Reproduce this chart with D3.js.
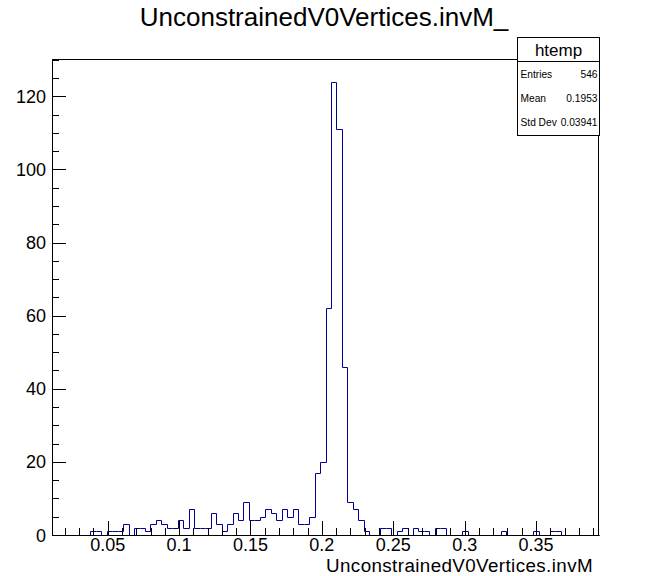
<!DOCTYPE html>
<html>
<head>
<meta charset="utf-8">
<script src="https://cdn.jsdelivr.net/npm/d3@7"></script>
<style>
  html, body { margin: 0; padding: 0; background: #fff; }
  svg text { font-family: "Liberation Sans", Arial, Helvetica, sans-serif; }
</style>
</head>
<body>
<svg id="chart" width="662" height="576"></svg>
<script>
// ---- data ----
const title = "UnconstrainedV0Vertices.invM_";
const xTitle = "UnconstrainedV0Vertices.invM";
const histName = "htemp";
const xRange = [0.011, 0.3941];          // histogram axis limits
const yMax = [130.2];                    // frame top (1.05 * max)
const counts = [
  0,0,0,0,0,0,0,1,1,0,
  1,1,1,3,0,2,2,1,3,4,
  3,2,2,4,2,7,2,2,2,6,
  3,1,3,6,4,9,4,4,5,7,
  6,4,7,5,7,3,3,5,17,20,
  62,124,111,46,9,7,4,1,0,0,
  2,2,0,1,2,0,2,1,1,0,
  2,2,0,0,0,1,0,0,0,0,
  0,0,1,0,0,0,0,0,1,0,
  0,1,1,0,0,0,0,0,0,0
];
const xTickValues = [0.05, 0.1, 0.15, 0.2, 0.25, 0.3, 0.35];
const xTickLabels = ["0.05", "0.1", "0.15", "0.2", "0.25", "0.3", "0.35"];
const yTickValues = [0, 20, 40, 60, 80, 100, 120];
const yTickLabels = ["0", "20", "40", "60", "80", "100", "120"];
const statLabels = ["Entries", "Mean", "Std Dev"];
const statValues = ["546", "0.1953", "0.03941"];

// ---- layout ----
const svg = d3.select("#chart");
const L = 52, R = 599, T = 59, B = 535;
const x = d3.scaleLinear().domain(xRange).range([L, R]);
const y = d3.scaleLinear().domain([0, yMax[0]]).range([B, T]);
const lineColor = "#000099";

// histogram outline
const nb = counts.length;
const bw = (xRange[1] - xRange[0]) / nb;
let pts = [[x(xRange[0]), y(0)]];
counts.forEach((c, i) => {
  const x0 = Math.round(x(xRange[0] + i * bw)) + 0.5;
  const x1 = Math.round(x(xRange[0] + (i + 1) * bw)) + 0.5;
  const yy = Math.round(y(c)) + 0.5;
  pts.push([x0, yy]);
  pts.push([x1, yy]);
});
pts.push([x(xRange[1]), y(0)]);
svg.append("path")
  .attr("d", d3.line()(pts))
  .attr("fill", "none")
  .attr("stroke", lineColor)
  .attr("stroke-width", 1);

// frame
svg.append("rect")
  .attr("x", L + 0.5).attr("y", T + 0.5)
  .attr("width", R - L - 1).attr("height", B - T)
  .attr("fill", "none").attr("stroke", "#000").attr("stroke-width", 1);

// x axis ticks (inside frame)
const xMinor = d3.range(0.02, 0.3951, 0.01);
const gx = svg.append("g");
xMinor.forEach(v => {
  const isMajor = xTickValues.some(t => Math.abs(t - v) < 1e-6);
  const px = Math.round(x(v)) + 0.5;
  gx.append("line").attr("x1", px).attr("x2", px)
    .attr("y1", B).attr("y2", B - (isMajor ? 14 : 7))
    .attr("stroke", "#000").attr("stroke-width", 1);
});
xTickValues.forEach((v, i) => {
  gx.append("text").attr("x", x(v)).attr("y", 551.2)
    .attr("text-anchor", "middle").attr("font-size", 18)
    .text(xTickLabels[i]);
});
gx.append("text").attr("x", 593).attr("y", 572)
  .attr("text-anchor", "end").attr("font-size", 18.8)
  .attr("letter-spacing", 0.4).text(xTitle);

// y axis ticks
const gy = svg.append("g");
d3.range(0, 130.1, 5).forEach(v => {
  const isMajor = yTickValues.includes(v);
  const py = Math.round(y(v)) + 0.5;
  gy.append("line").attr("x1", L).attr("x2", L + (isMajor ? 14 : 7))
    .attr("y1", py).attr("y2", py)
    .attr("stroke", "#000").attr("stroke-width", 1);
});
yTickValues.forEach((v, i) => {
  gy.append("text").attr("x", 46).attr("y", y(v) + 6.5)
    .attr("text-anchor", "end").attr("font-size", 18)
    .text(yTickLabels[i]);
});

// title
svg.append("text").attr("x", 324).attr("y", 25.5)
  .attr("text-anchor", "middle").attr("font-size", 26).text(title);

// stats box
const bx0 = 517, bx1 = 600, by0 = 37, by1 = 135;
svg.append("rect").attr("x", bx0 + 0.5).attr("y", by0 + 0.5)
  .attr("width", bx1 - bx0 - 1).attr("height", by1 - by0)
  .attr("fill", "#fff").attr("stroke", "#000").attr("stroke-width", 1);
svg.append("line").attr("x1", bx0).attr("x2", bx1)
  .attr("y1", 61.5).attr("y2", 61.5).attr("stroke", "#000");
svg.append("text").attr("x", (bx0 + bx1) / 2).attr("y", 56)
  .attr("text-anchor", "middle").attr("font-size", 17).text(histName);
statLabels.forEach((s, i) => {
  const yy = 78 + i * 24;
  svg.append("text").attr("x", 520.5).attr("y", yy)
    .attr("font-size", 10.2).text(s);
  svg.append("text").attr("x", 597.5).attr("y", yy)
    .attr("text-anchor", "end").attr("font-size", 10.2).text(statValues[i]);
});
</script>
</body>
</html>
